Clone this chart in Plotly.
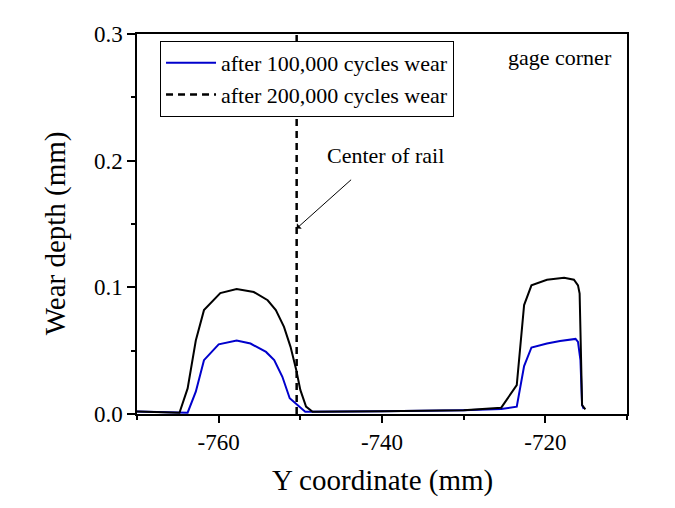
import plotly.graph_objects as go

# ---- data ----
x_100k = [-770.0, -764.8, -763.8, -762.8, -761.8, -760.0, -757.8, -756.1, -754.2, -753.2,
          -752.2, -751.3, -750.4, -749.4, -740.0, -730.0, -725.4, -723.5, -722.6, -721.7,
          -719.8, -718.2, -716.3, -716.0, -715.7, -715.5, -715.3]
y_100k = [0.0020, 0.0012, 0.0010, 0.0176, 0.0425, 0.0550, 0.0580, 0.0556, 0.0490, 0.0425,
          0.0294, 0.0124, 0.0071, 0.0018, 0.0022, 0.0030, 0.0040, 0.0058, 0.0378, 0.0525,
          0.0556, 0.0577, 0.0593, 0.0570, 0.0425, 0.0070, 0.0040]

x_200k = [-770.0, -764.8, -763.8, -762.8, -761.8, -759.8, -757.8, -755.7, -754.0, -753.0,
          -752.0, -751.2, -750.5, -750.0, -749.3, -748.5, -740.0, -730.0, -725.4, -723.5,
          -722.6, -721.7, -719.8, -717.7, -716.5, -716.0, -715.8, -715.5, -715.1]
y_200k = [0.0020, 0.0010, 0.0202, 0.0580, 0.0820, 0.0955, 0.0987, 0.0963, 0.0898, 0.0820,
          0.0688, 0.0530, 0.0347, 0.0190, 0.0058, 0.0018, 0.0022, 0.0030, 0.0050, 0.0228,
          0.0860, 0.1016, 0.1060, 0.1076, 0.1060, 0.1016, 0.0950, 0.0071, 0.0037]

center_x = [-750.45, -750.45]
center_y = [0.0, 0.3]

x_ticks = [-760, -740, -720]
x_tick_labels = ["-760", "-740", "-720"]
y_ticks = [0.0, 0.1, 0.2, 0.3]
y_tick_labels = ["0.0", "0.1", "0.2", "0.3"]

FONT = "Liberation Serif"

fig = go.Figure()
fig.add_trace(go.Scatter(x=x_100k, y=y_100k, mode="lines", name="after 100,000 cycles wear",
                         line=dict(color="#0000cc", width=2)))
fig.add_trace(go.Scatter(x=x_200k, y=y_200k, mode="lines", name="after 200,000 cycles wear",
                         showlegend=False, line=dict(color="black", width=2)))
fig.add_trace(go.Scatter(x=center_x, y=center_y, mode="lines", name="after 200,000 cycles wear",
                         line=dict(color="black", width=2.5, dash="7px,5px")))

fig.update_layout(
    width=675, height=508,
    margin=dict(l=137, r=48, t=34, b=94),
    paper_bgcolor="white", plot_bgcolor="white",
    font=dict(family=FONT, color="black", size=22),
    showlegend=True,
    legend=dict(x=0.047, y=0.9816, xanchor="left", yanchor="top",
                bgcolor="white", bordercolor="black", borderwidth=1,
                font=dict(family=FONT, size=22, color="black"),
                tracegroupgap=0, itemwidth=50),
    xaxis=dict(range=[-770, -710], tickvals=x_ticks, ticktext=x_tick_labels,
               ticks="outside", ticklen=7, tickwidth=1.5, tickcolor="black",
               minor=dict(dtick=10, tick0=-770, ticks="outside", ticklen=4, tickcolor="black"),
               showline=True, linecolor="black", linewidth=1.5, mirror=True,
               showgrid=False, zeroline=False, automargin=False,
               tickfont=dict(family=FONT, size=23, color="black")),
    yaxis=dict(range=[0, 0.3], tickvals=y_ticks, ticktext=y_tick_labels,
               ticks="outside", ticklen=8, tickwidth=1.5, tickcolor="black",
               minor=dict(dtick=0.05, tick0=0, ticks="outside", ticklen=4, tickcolor="black"),
               showline=True, linecolor="black", linewidth=1.5, mirror=True,
               showgrid=False, zeroline=False, automargin=False,
               tickfont=dict(family=FONT, size=23, color="black")),
)

# axis titles
fig.add_annotation(x=0.5, y=-0.174, xref="paper", yref="paper", text="Y coordinate (mm)",
                   xanchor="center", yanchor="middle", showarrow=False,
                   font=dict(family=FONT, size=29, color="black"))
fig.add_annotation(x=-0.167, y=0.476, xref="paper", yref="paper", text="Wear depth (mm)",
                   textangle=-90, xanchor="center", yanchor="middle", showarrow=False,
                   font=dict(family=FONT, size=29, color="black"))

fig.add_annotation(x=0.863, y=0.937, xref="paper", yref="paper", text="gage corner",
                   xanchor="center", yanchor="middle",
                   showarrow=False, font=dict(family=FONT, size=22, color="black"))
fig.add_annotation(x=-739.6, y=0.2044, xref="x", yref="y", text="Center of rail",
                   xanchor="center", yanchor="middle",
                   showarrow=False, font=dict(family=FONT, size=22, color="black"))
fig.add_annotation(x=-750.45, y=0.1465, xref="x", yref="y", ax=-743.6, ay=0.186,
                   axref="x", ayref="y", text="", showarrow=True, arrowhead=1,
                   arrowsize=1.2, arrowwidth=1, arrowcolor="black")

fig.write_html("out.html", config={"displayModeBar": False},
               post_script="document.body.style.margin='0px';")
